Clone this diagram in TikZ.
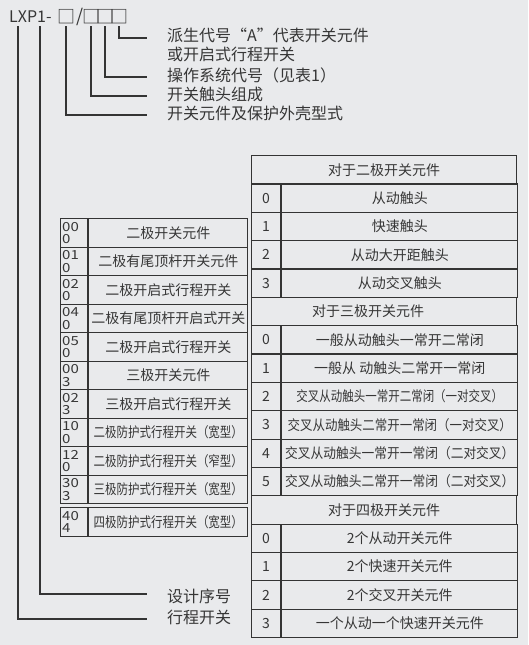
\documentclass[tikz,border=0pt]{standalone}
\usepackage{fontspec}
\setmainfont{Noto Sans CJK SC}
\newfontfamily\fwquote[RawFeature=+fwid]{Noto Sans CJK SC}
\definecolor{bgcol}{RGB}{233,234,236}
\definecolor{inkcol}{RGB}{52,52,52}
\definecolor{txtcol}{RGB}{54,54,54}

\begin{document}
\begin{tikzpicture}[x=1pt,y=-1pt]
    \tikzstyle{cell}=[draw=inkcol,line width=1.2pt,inner sep=0,anchor=north west]
    \tikzstyle{celltext}=[text=txtcol,inner sep=0,font=\fontsize{14}{16}\selectfont]
    \tikzstyle{codetext}=[text=txtcol,inner sep=0,align=left,anchor=west,xscale=1.2,font=\fontsize{12.5}{12.5}\selectfont]
    \tikzstyle{lab}=[text=txtcol,inner sep=0,anchor=west,font=\fontsize{16}{18}\selectfont]
    \tikzstyle{box}=[text=txtcol,inner sep=0,font=\fontsize{18}{20}\selectfont]
    \tikzstyle{conn}=[draw=inkcol,line width=1.2pt]
    \newcommand{\headrow}[4]{
        \path (251,155+#1*28.35) node[cell,minimum width=265pt,minimum height=28.35pt] (#2) {};
        \path ([xshift=#3]#2.center) node[celltext] (#2t) {#4};
    }
    \newcommand{\numrow}[4]{
        \path (251,155+#1*28.35) node[cell,celltext,minimum width=29pt,minimum height=28.35pt] (#2n) {#3};
        \path (#2n.north east) node[cell,celltext,minimum width=236pt,minimum height=28.35pt] (#2t) {#4};
    }
    \newcommand{\leftrow}[4]{
        \path (60,#1) node[cell,minimum width=27pt,minimum height=28.5pt] (#2c) {};
        \path ([xshift=2pt]#2c.west) node[codetext] (#2n) {#3};
        \path (#2c.north east) node[cell,celltext,minimum width=159pt,minimum height=28.5pt] (#2t) {#4};
    }
    \fill[bgcol] (0,0) rectangle (528,645);
    \useasboundingbox (0,0) rectangle (528,645);

    \path (9,17) node[lab] (lxp) {LXP1-};
    \path (66,17) node[box] (b1) {□};
    \path (80,17) node[box] (sl) {/};
    \path (91,17) node[box] (b2) {□};
    \path (105,17) node[box] (b3) {□};
    \path (119,17) node[box] (b4) {□};
    \coordinate (lx) at (18,26);
    \coordinate (px) at (40,26);

    \path (167,35) node[lab] (pai) {派生代号{\fwquote “}A{\fwquote ”}代表开关元件};
    \path (167,54) node[lab] (huo) {或开启式行程开关};
    \path (167,75) node[lab] (czxt) {操作系统代号（见表1）};
    \path (167,94) node[lab] (chu) {开关触头组成};
    \path (167,113) node[lab] (wai) {开关元件及保护外壳型式};
    \path (167,596) node[lab] (sjxh) {设计序号};
    \path (167,617) node[lab] (xckg) {行程开关};

    \draw[conn] ([yshift=-2pt]b4.south) |- ([xshift=-20pt,yshift=-3pt]pai.west);
    \draw[conn] ([yshift=-2pt]b3.south) |- ([xshift=-20pt,yshift=-2pt]czxt.west);
    \draw[conn] ([yshift=-2pt]b2.south) |- ([xshift=-20pt,yshift=-2pt]chu.west);
    \draw[conn] ([yshift=-2pt]b1.south) |- ([xshift=-20pt,yshift=-2pt]wai.west);
    \draw[conn] (px) |- ([xshift=-20pt,yshift=2pt]sjxh.west);
    \draw[conn] (lx) |- ([xshift=-20pt,yshift=-2pt]xckg.west);

    \leftrow{218}{k0}{00\\0}{二极开关元件}
    \leftrow{246.5}{k1}{01\\0}{二极有尾顶杆开关元件}
    \leftrow{275}{k2}{02\\0}{二极开启式行程开关}
    \leftrow{303.5}{k3}{04\\0}{二极有尾顶杆开启式开关}
    \leftrow{332}{k4}{05\\0}{二极开启式行程开关}
    \leftrow{360.5}{k5}{00\\3}{三极开关元件}
    \leftrow{389}{k6}{02\\3}{三极开启式行程开关}
    \leftrow{417.5}{k7}{10\\0}{\scalebox{0.82}[1]{二极防护式行程开关（宽型）}}
    \leftrow{446}{k8}{12\\0}{\scalebox{0.82}[1]{二极防护式行程开关（窄型）}}
    \leftrow{474.5}{k9}{30\\3}{\scalebox{0.82}[1]{三极防护式行程开关（宽型）}}
    \leftrow{507}{k10}{40\\4}{\scalebox{0.82}[1]{四极防护式行程开关（宽型）}}

    \headrow{0}{h2}{0pt}{对于二极开关元件}
    \numrow{1}{a0}{0}{从动触头}
    \numrow{2}{a1}{1}{快速触头}
    \numrow{3}{a2}{2}{从动大开距触头}
    \numrow{4}{a3}{3}{从动交叉触头}
    \headrow{5}{h3}{-16pt}{对于三极开关元件}
    \numrow{6}{c0}{0}{一般从动触头一常开二常闭}
    \numrow{7}{c1}{1}{一般从 动触头二常开一常闭}
    \numrow{8}{c2}{2}{\scalebox{0.82}[1]{交叉从动触头一常开二常闭（一对交叉）}}
    \numrow{9}{c3}{3}{\scalebox{0.89}[1]{交叉从动触头二常开一常闭（一对交叉）}}
    \numrow{10}{c4}{4}{\scalebox{0.91}[1]{交叉从动触头一常开一常闭（二对交叉）}}
    \numrow{11}{c5}{5}{\scalebox{0.91}[1]{交叉从动触头二常开一常闭（二对交叉）}}
    \headrow{12}{h4}{0pt}{对于四极开关元件}
    \numrow{13}{d0}{0}{2个从动开关元件}
    \numrow{14}{d1}{1}{2个快速开关元件}
    \numrow{15}{d2}{2}{2个交叉开关元件}
    \numrow{16}{d3}{3}{一个从动一个快速开关元件}
\end{tikzpicture}
\end{document}
